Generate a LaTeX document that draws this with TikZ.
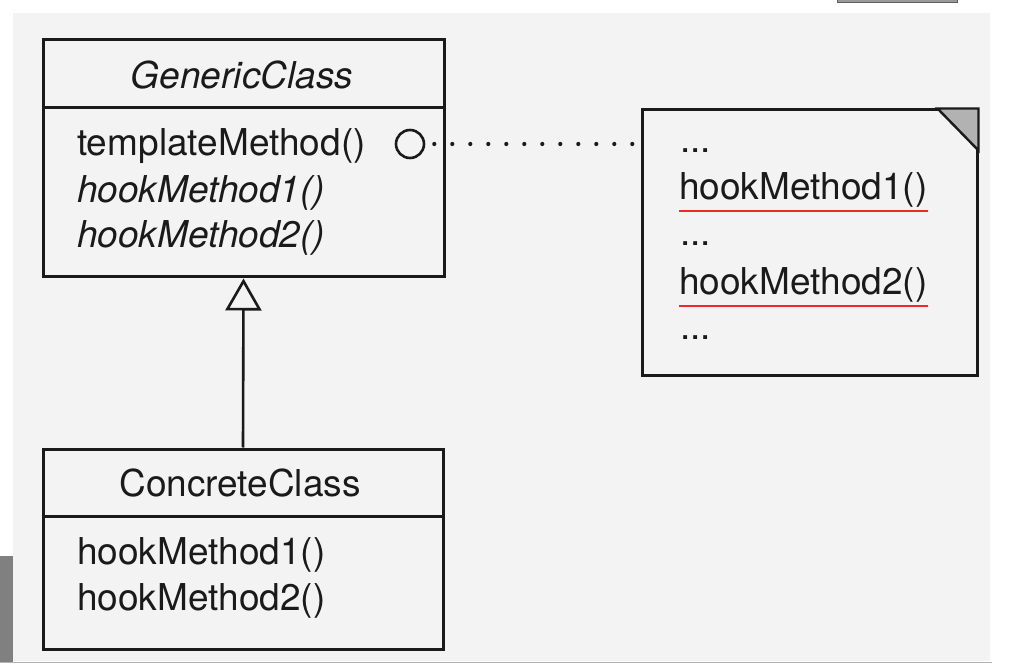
\documentclass[tikz,border=0pt]{standalone}
\usepackage{fontspec}
\setmainfont{TeX Gyre Heros}
\usetikzlibrary{arrows.meta}
\definecolor{ink}{HTML}{1A1A1A}
\definecolor{paper}{HTML}{F3F3F3}
\definecolor{redline}{HTML}{EE2A22}
\definecolor{bar}{HTML}{808080}
\begin{document}
\begin{tikzpicture}[x=1pt,y=-1pt,
  box/.style={draw=ink, line width=3pt, inner sep=0pt, rectangle},
  ln/.style={draw=ink, line width=3pt},
  txt/.style={anchor=base west, inner sep=0pt, text=ink, font=\fontsize{37}{44}\selectfont},
  ctxt/.style={anchor=base, inner sep=0pt, text=ink, font=\fontsize{37}{44}\selectfont},
  dotline/.style={draw=ink, line width=4.2pt, line cap=round, dash pattern=on 0pt off 18pt, dash phase=9pt},
  uline/.style={draw=redline, line width=2.6pt}
]
\useasboundingbox (0,0) rectangle (1010,668);
\fill[white] (0,0) rectangle (1010,668);
\fill[paper] (13,13) rectangle (990,661);
\fill[bar] (0,556) rectangle (13,663);
\draw[gray!60, line width=1pt] (0,662) -- (992,662);
\filldraw[fill=bar!80, draw=ink!70, line width=1pt] (837,0) rectangle (957,3);

% GenericClass
\node[box, minimum width=401pt, minimum height=237pt] (gen) at (243.5,158.5) {};
\draw[ln] (gen.west |- 0,108) -- (gen.east |- 0,108);
\node[ctxt, font=\fontsize{37}{44}\selectfont\itshape] (genname) at (242,89) {GenericClass};
\node[txt] (gtm) at (77,156) {templateMethod()};
\node[txt, font=\fontsize{37}{44}\selectfont\itshape] (gh1) at (77,203) {hookMethod1()};
\node[txt, font=\fontsize{37}{44}\selectfont\itshape] (gh2) at (77,248) {hookMethod2()};

% ConcreteClass
\node[box, minimum width=400pt, minimum height=200pt] (conc) at (243,549) {};
\draw[ln] (conc.west |- 0,516) -- (conc.east |- 0,516);
\node[ctxt] (concname) at (240,496) {ConcreteClass};
\node[txt] (ch1) at (77,564) {hookMethod1()};
\node[txt] (ch2) at (77,610) {hookMethod2()};

% inheritance
\draw[draw=ink, line width=2.6pt, -{Triangle[open, length=32pt, width=36pt, fill=paper]}] (conc.north) -- (gen.south);

% note
\node[box, fill=paper, minimum width=335pt, minimum height=266pt] (note) at (809.5,243) {};
\filldraw[fill=gray!60, draw=ink, line width=2.4pt, line join=miter] (note.north east) -- ([xshift=-41pt]note.north east) -- ([yshift=-42pt]note.north east) -- cycle;
\node[txt] (n1) at (680,153) {...};
\node[txt] (nh1) at (679,200) {hookMethod1()};
\node[txt] (n2) at (680,246) {...};
\node[txt] (nh2) at (679,295) {hookMethod2()};
\node[txt] (n3) at (680,340) {...};
\draw[uline] ([yshift=-3pt]nh1.south west) -- ([yshift=-3pt]nh1.south east);
\draw[uline] ([yshift=-3pt]nh2.south west) -- ([yshift=-3pt]nh2.south east);

% note attachment
\node[draw=ink, circle, line width=2.6pt, minimum size=28pt, inner sep=0pt] (circ) at (410,144) {};
\draw[dotline] (circ.east) -- (circ.east -| note.west);
\end{tikzpicture}
\end{document}
